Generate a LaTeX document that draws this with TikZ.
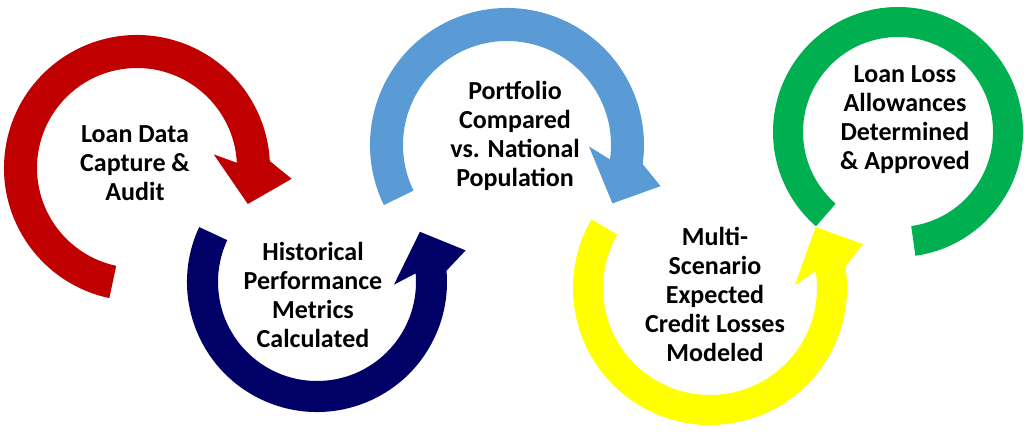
\documentclass[tikz,border=0pt]{standalone}
\usepackage{fontspec}
\setmainfont{Carlito}
\definecolor{cred}{HTML}{C00000}
\definecolor{cnavy}{HTML}{000066}
\definecolor{cblue}{HTML}{5B9BD5}
\definecolor{cyel}{HTML}{FFFF00}
\definecolor{cgreen}{HTML}{00B050}
\newcommand{\carrow}[8]{%
  \begin{scope}[shift={(#2,#3)}]
    \pgfmathsetmacro{\rm}{(#4+#5)/2}
    \fill[#1] (#6:#5) arc[start angle=#6,end angle=#7,radius=#5]
      -- ({#7+#8*7}:{#5+22}) -- ({#7+#8*21}:\rm) -- ({#7-#8*7}:{#4-22})
      -- (#7:#4) arc[start angle=#7,end angle=#6,radius=#4] -- cycle;
  \end{scope}}
\begin{document}
\begin{tikzpicture}[x=1pt,y=1pt,
  lbl/.style={align=center,font=\bfseries\fontsize{26}{29}\selectfont,text=black}]
\useasboundingbox (0,0) rectangle (1024,432);
\carrow{cred}{137}{264}{100}{133}{258}{3}{-1}
\carrow{cnavy}{317}{150}{99}{130}{155}{365}{1}
\carrow{cblue}{507}{287}{104}{137}{206}{-8}{-1}
\carrow{cyel}{710}{144}{107}{137}{150}{369}{1}
\begin{scope}[shift={(898,300)}]
  \fill[cgreen] (229:125) arc[start angle=229,end angle=-82,radius=125]
    -- (-82:95) arc[start angle=-82,end angle=229,radius=95] -- cycle;
\end{scope}
\node[lbl] (t1) at (135,269) {Loan Data\\Capture \&\\Audit};
\node[lbl] (t2) at (313,137) {Historical\\Performance\\Metrics\\Calculated};
\node[lbl] (t3) at (515,296) {Portfolio\\Compared\\vs. National\\Population};
\node[lbl] (t4) at (715,138) {Multi-\\Scenario\\Expected\\Credit Losses\\Modeled};
\node[lbl] (t5) at (905,312) {Loan Loss\\Allowances\\Determined\\\& Approved};
\end{tikzpicture}
\end{document}
